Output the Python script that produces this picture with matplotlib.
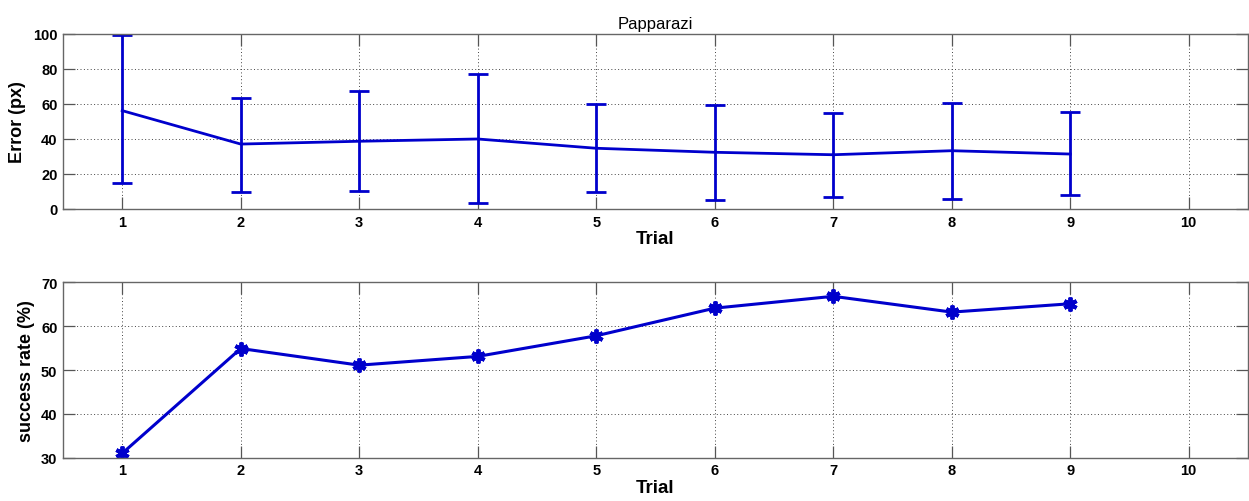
import numpy as np
import matplotlib
matplotlib.use("Agg")
import matplotlib.pyplot as plt

plt.rcParams["font.family"] = ["Liberation Sans", "DejaVu Sans"]

trials = [1, 2, 3, 4, 5, 6, 7, 8, 9]

# pixel error per trial: mean with lower / upper end of the error bar
err_mean = [56.2, 37.1, 38.7, 40.0, 34.7, 32.4, 31.0, 33.3, 31.4]
err_low = [14.7, 9.9, 10.5, 3.2, 9.5, 5.1, 6.7, 5.7, 7.8]
err_high = [99.4, 63.6, 67.4, 77.1, 60.0, 59.4, 54.7, 60.4, 55.2]

# success rate per trial (%)
success = [31.0, 54.9, 51.1, 53.1, 57.8, 64.1, 66.8, 63.2, 65.1]

xticks = list(range(1, 11))
blue = "#0000cc"


def style_axes(ax):
    ax.set_xlim(0.5, 10.5)
    ax.set_xticks(xticks)
    ax.grid(True, linestyle=(0, (1, 2.5)), color="#444444", linewidth=0.7)
    ax.tick_params(direction="in", length=8.5, width=0.9, color="#555555",
                   top=True, right=True, labelsize=10.5, pad=4)
    for lbl in ax.get_xticklabels() + ax.get_yticklabels():
        lbl.set_fontweight("bold")
    for sp in ax.spines.values():
        sp.set_color("#666666")
        sp.set_linewidth(1.0)
    ax.set_xlabel("Trial", fontsize=13.5, fontweight="bold", labelpad=1)


fig = plt.figure(figsize=(12.49, 5.02), dpi=100)
ax1 = fig.add_axes([0.0504, 0.5817, 0.9488, 0.3486])
ax2 = fig.add_axes([0.0504, 0.0862, 0.9488, 0.3495])

mean = np.array(err_mean)
yerr = [mean - np.array(err_low), np.array(err_high) - mean]
ax1.errorbar(trials, err_mean, yerr=yerr, color=blue, linewidth=2,
             elinewidth=2, capsize=7.5, capthick=2)
ax1.set_ylim(0, 100)
ax1.set_yticks([0, 20, 40, 60, 80, 100])
style_axes(ax1)
ax1.set_ylabel("Error (px)", fontsize=13, fontweight="bold", labelpad=5)
ax1.set_title("Papparazi", fontsize=12, pad=4)

ax2.plot(trials, success, color=blue, linewidth=2.2,
         marker=(6, 2, 0), markersize=10, markeredgewidth=2.8,
         markeredgecolor=blue)
ax2.set_ylim(30, 70)
ax2.set_yticks([30, 40, 50, 60, 70])
style_axes(ax2)
ax2.set_ylabel("success rate (%)", fontsize=13, fontweight="bold", labelpad=4)

fig.savefig("out.png", dpi=100)
